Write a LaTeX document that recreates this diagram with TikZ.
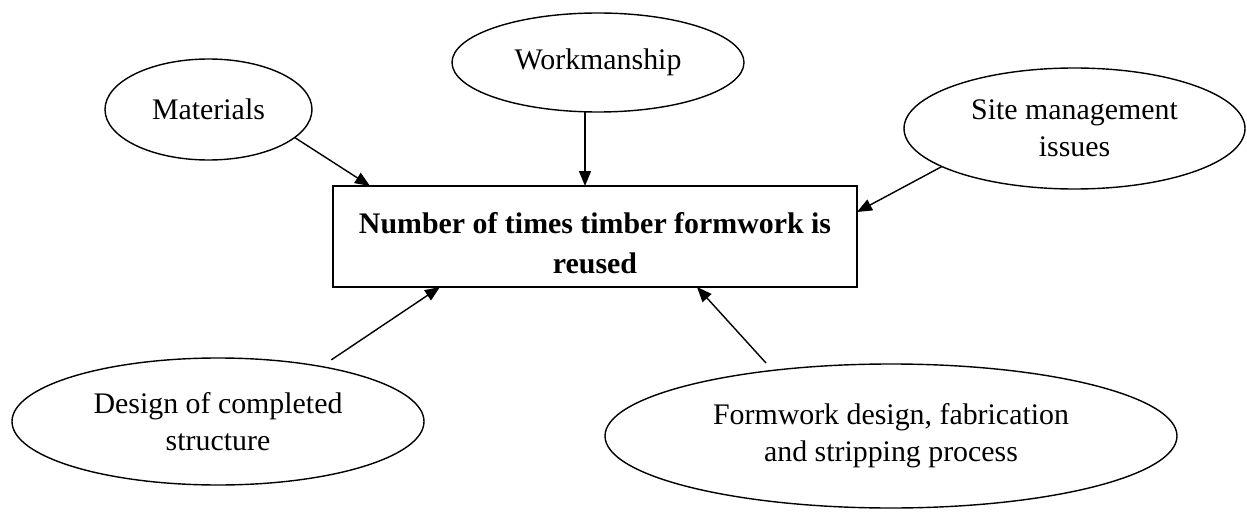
\documentclass[tikz,border=0pt]{standalone}
\usepackage{fontspec}
\setmainfont{Liberation Serif}
\usepackage{tikz}
\usetikzlibrary{shapes,arrows.meta,positioning,calc}

\begin{document}
\begin{tikzpicture}[>={Triangle[length=3mm,width=2.4mm]},
  cause/.style={draw, ellipse, line width=0.8pt, inner sep=0pt, outer sep=0pt, align=center, font=\fontsize{17}{21}\selectfont},
  effect/.style={draw, rectangle, line width=1.1pt, inner sep=0pt, outer sep=0pt, align=center, minimum width=10.48cm, minimum height=2.02cm, font=\fontsize{17}{23}\selectfont\bfseries},
  line/.style={draw, ->, line width=0.8pt}
]
  \useasboundingbox (0,0) rectangle (24.94,10.24);

  % Effect
  \node [effect] (box) at (11.90,5.51) {\rule{0pt}{19.5pt}Number of times timber formwork is\\ reused};

  % Causes
  \node [cause, minimum width=4.14cm, minimum height=2.02cm] (mat) at (4.17,8.05) {Materials};
  \node [cause, minimum width=5.84cm, minimum height=1.98cm] (work) at (11.96,8.99) {Workmanship};
  \node [cause, minimum width=6.82cm, minimum height=2.42cm] (site) at (21.49,7.67) {Site management\\ issues};
  \node [cause, minimum width=8.24cm, minimum height=2.54cm] (des) at (4.36,1.81) {Design of completed\\ structure};
  \node [cause, minimum width=11.44cm, minimum height=2.88cm] (form) at (17.82,1.52) {Formwork design, fabrication\\ and stripping process};

  % Arrow ends on the box
  \coordinate (matin) at ($(box.north west)+(0.74,0)$);
  \coordinate (workin) at ($(box.north west)+(5.04,0)$);
  \coordinate (sitein) at ($(box.north east)+(0,-0.52)$);
  \coordinate (desin) at ($(box.south west)+(2.14,0)$);
  \coordinate (formin) at ($(box.south west)+(7.28,0)$);

  % Connections
  \draw [line] (mat.-18) -- (matin);
  \draw [line] (workin |- work.south) -- (workin);
  \draw [line] (site.196) -- (sitein);
  \draw [line, shorten <=0.24cm] (des.28) -- (desin);
  \draw [line, shorten <=0.2cm] (form.151) -- (formin);

\end{tikzpicture}
\end{document}
